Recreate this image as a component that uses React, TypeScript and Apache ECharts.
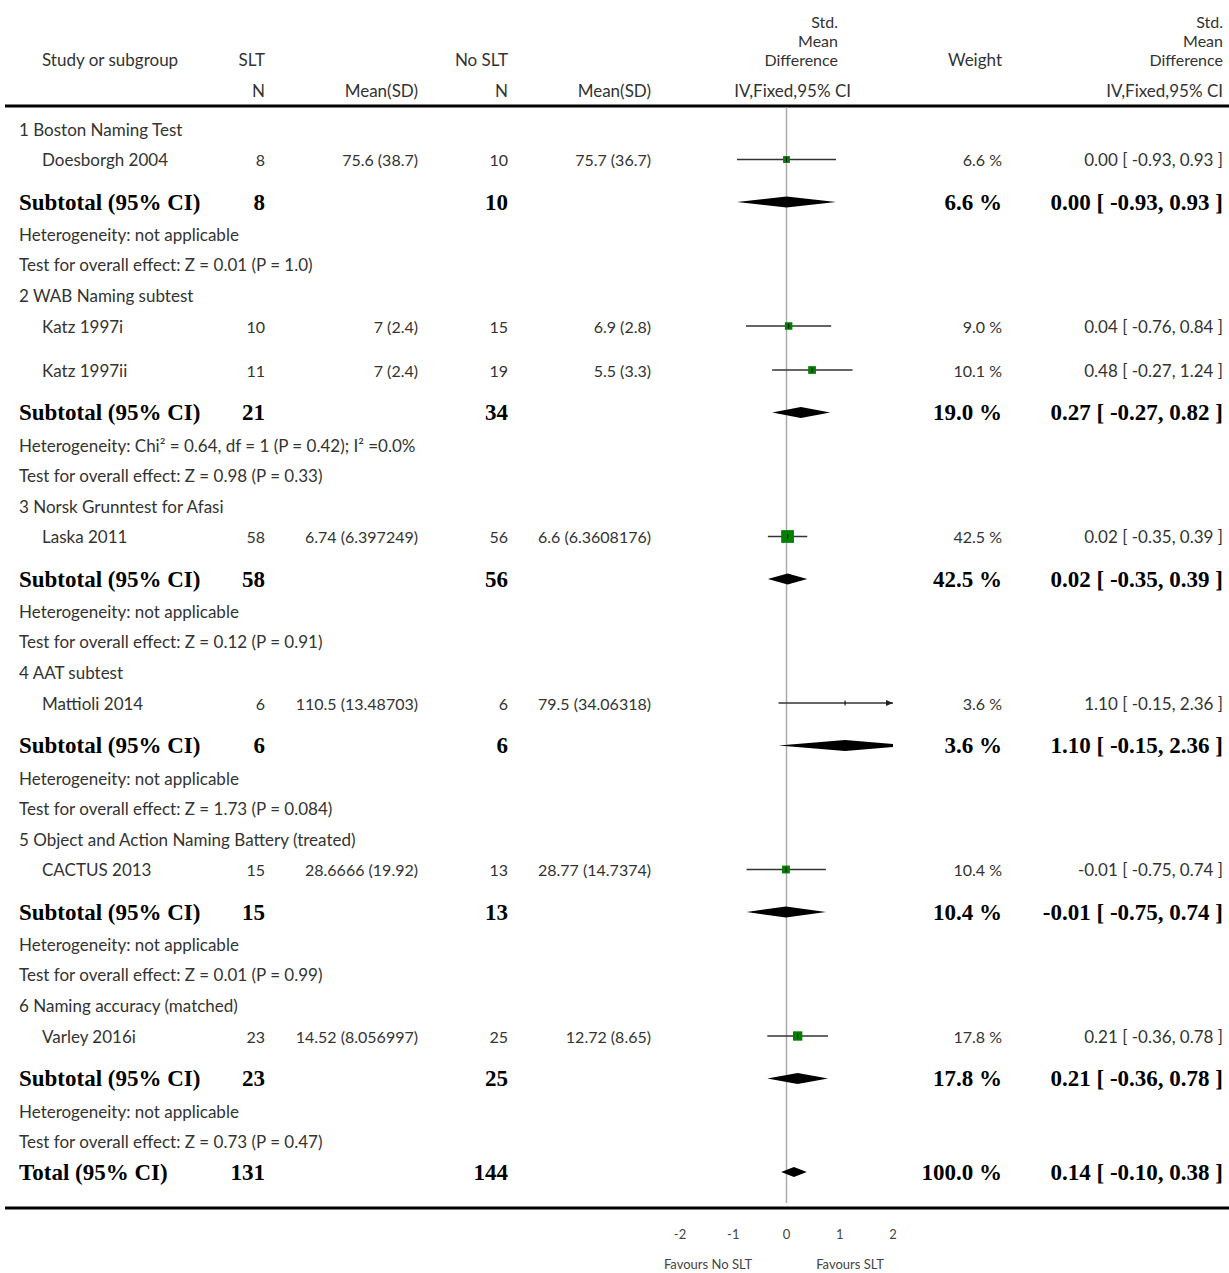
import React, { useEffect, useRef } from "react";
import * as echarts from "echarts";

// ---------- data ----------
const subgroupNames = [
  "1 Boston Naming Test",
  "2 WAB Naming subtest",
  "3 Norsk Grunntest for Afasi",
  "4 AAT subtest",
  "5 Object and Action Naming Battery (treated)",
  "6 Naming accuracy (matched)",
];
const studyNames = ["Doesborgh 2004", "Katz 1997i", "Katz 1997ii", "Laska 2011", "Mattioli 2014", "CACTUS 2013", "Varley 2016i"];
const studyGroup = [0, 1, 1, 2, 3, 4, 5];
const sltN = [8, 10, 11, 58, 6, 15, 23];
const sltMeanSD = ["75.6 (38.7)", "7 (2.4)", "7 (2.4)", "6.74 (6.397249)", "110.5 (13.48703)", "28.6666 (19.92)", "14.52 (8.056997)"];
const noN = [10, 15, 19, 56, 6, 13, 25];
const noMeanSD = ["75.7 (36.7)", "6.9 (2.8)", "5.5 (3.3)", "6.6 (6.3608176)", "79.5 (34.06318)", "28.77 (14.7374)", "12.72 (8.65)"];
const studySMD = [0.0, 0.04, 0.48, 0.02, 1.1, -0.01, 0.21];
const studyLo = [-0.93, -0.76, -0.27, -0.35, -0.15, -0.75, -0.36];
const studyHi = [0.93, 0.84, 1.24, 0.39, 2.36, 0.74, 0.78];
const studyWeight = [6.6, 9.0, 10.1, 42.5, 3.6, 10.4, 17.8];

const subSltN = [8, 21, 58, 6, 15, 23];
const subNoN = [10, 34, 56, 6, 13, 25];
const subSMD = [0.0, 0.27, 0.02, 1.1, -0.01, 0.21];
const subLo = [-0.93, -0.27, -0.35, -0.15, -0.75, -0.36];
const subHi = [0.93, 0.82, 0.39, 2.36, 0.74, 0.78];
const subWeight = [6.6, 19.0, 42.5, 3.6, 10.4, 17.8];
const heterogeneity = [
  "Heterogeneity: not applicable",
  "Heterogeneity: Chi² = 0.64, df = 1 (P = 0.42); I² =0.0%",
  "Heterogeneity: not applicable",
  "Heterogeneity: not applicable",
  "Heterogeneity: not applicable",
  "Heterogeneity: not applicable",
];
const overallEffect = [
  "Test for overall effect: Z = 0.01 (P = 1.0)",
  "Test for overall effect: Z = 0.98 (P = 0.33)",
  "Test for overall effect: Z = 0.12 (P = 0.91)",
  "Test for overall effect: Z = 1.73 (P = 0.084)",
  "Test for overall effect: Z = 0.01 (P = 0.99)",
  "Test for overall effect: Z = 0.73 (P = 0.47)",
];
const totalSltN = 131;
const totalNoN = 144;
const totalSMD = 0.14;
const totalLo = -0.1;
const totalHi = 0.38;
const totalWeight = 100.0;

const axisMin = -2;
const axisMax = 2;
const axisInterval = 1;
const favoursLeft = "Favours No SLT";
const favoursRight = "Favours SLT";

// ---------- layout ----------
const W = 1229;
const H = 1273;
const PLOT_LEFT = 680;
const PLOT_RIGHT = 893;
const AXIS_Y = 1208;
const TOP_RULE_Y = 106;

const REG = "Lato, 'Open Sans', 'DejaVu Sans', sans-serif";
const SERIF = "'Liberation Serif', 'Times New Roman', serif";
const LABEL_SIZE = 17;
const HEAD_STACK_SIZE = 16;
const NUM_SIZE = 16;
const CI_SIZE = 17;
const BOLD_SIZE = 23;
const TEXT_COLOR = "#333";

const COL = {
  group: 19,
  study: 42,
  sltN: 265,
  sltMean: 418,
  noN: 508,
  noMean: 651,
  plotHead: 838,
  plotHead2: 851,
  weight: 1002,
  ci: 1223,
};

type Row = { kind: string; idx: number; y: number };

function layoutRows(): Row[] {
  const rows: Row[] = [];
  let y = 129;
  subgroupNames.forEach((_, g) => {
    rows.push({ kind: "header", idx: g, y });
    y += 30.5;
    const members = studyNames.map((_, i) => i).filter((i) => studyGroup[i] === g);
    members.forEach((i, k) => {
      rows.push({ kind: "study", idx: i, y });
      y += k < members.length - 1 ? 44 : 42.5;
    });
    rows.push({ kind: "subtotal", idx: g, y });
    y += 32.5;
    rows.push({ kind: "het", idx: g, y });
    y += 30.3;
    rows.push({ kind: "test", idx: g, y });
    y += 30.7;
  });
  rows.push({ kind: "total", idx: 0, y });
  return rows;
}

const fmt = (v: number) => v.toFixed(2);
const ciText = (e: number, l: number, h: number) => `${fmt(e)} [ ${fmt(l)}, ${fmt(h)} ]`;
const wText = (w: number) => `${w.toFixed(1)} %`;

function text(t: string, x: number, y: number, align: string, bold = false, size?: number, color?: string) {
  const fs = size || (bold ? BOLD_SIZE : LABEL_SIZE);
  return {
    type: "text",
    x,
    y,
    silent: true,
    style: {
      text: t,
      fill: color || (bold ? "#000" : TEXT_COLOR),
      fontFamily: bold ? SERIF : REG,
      fontWeight: bold ? "bold" : "normal",
      fontSize: fs,
      lineHeight: Math.round(fs * 1.05),
      textAlign: align,
      textVerticalAlign: "middle",
      align,
      verticalAlign: "middle",
    },
  };
}

function buildOption() {
  const rows = layoutRows();
  const g: any[] = [];

  // header
  const hy1 = 21, hy2 = 40, hy3 = 59, hy4 = 90;
  g.push(text("Study or subgroup", COL.study, hy3, "left"));
  g.push(text("SLT", COL.sltN, hy3, "right"));
  g.push(text("No SLT", COL.noN, hy3, "right"));
  g.push(text("N", COL.sltN, hy4, "right"));
  g.push(text("Mean(SD)", COL.sltMean, hy4, "right"));
  g.push(text("N", COL.noN, hy4, "right"));
  g.push(text("Mean(SD)", COL.noMean, hy4, "right"));
  g.push(text("Std.", COL.plotHead, hy1, "right", false, HEAD_STACK_SIZE));
  g.push(text("Mean", COL.plotHead, hy2, "right", false, HEAD_STACK_SIZE));
  g.push(text("Difference", COL.plotHead, hy3, "right", false, HEAD_STACK_SIZE));
  g.push(text("IV,Fixed,95% CI", COL.plotHead2, hy4, "right"));
  g.push(text("Weight", COL.weight, hy3, "right"));
  g.push(text("Std.", COL.ci, hy1, "right", false, HEAD_STACK_SIZE));
  g.push(text("Mean", COL.ci, hy2, "right", false, HEAD_STACK_SIZE));
  g.push(text("Difference", COL.ci, hy3, "right", false, HEAD_STACK_SIZE));
  g.push(text("IV,Fixed,95% CI", COL.ci, hy4, "right"));

  // rules
  g.push({ type: "line", silent: true, shape: { x1: 5, y1: TOP_RULE_Y, x2: W, y2: TOP_RULE_Y }, style: { stroke: "#000", lineWidth: 3 } });
  g.push({ type: "line", silent: true, shape: { x1: 5, y1: AXIS_Y, x2: W, y2: AXIS_Y }, style: { stroke: "#000", lineWidth: 3 } });

  rows.forEach((r) => {
    const i = r.idx;
    if (r.kind === "header") g.push(text(subgroupNames[i], COL.group, r.y, "left"));
    else if (r.kind === "study") {
      g.push(text(studyNames[i], COL.study, r.y, "left"));
      g.push(text(String(sltN[i]), COL.sltN, r.y, "right", false, NUM_SIZE));
      g.push(text(sltMeanSD[i], COL.sltMean, r.y, "right", false, NUM_SIZE));
      g.push(text(String(noN[i]), COL.noN, r.y, "right", false, NUM_SIZE));
      g.push(text(noMeanSD[i], COL.noMean, r.y, "right", false, NUM_SIZE));
      g.push(text(wText(studyWeight[i]), COL.weight, r.y, "right", false, NUM_SIZE));
      g.push(text(ciText(studySMD[i], studyLo[i], studyHi[i]), COL.ci, r.y, "right", false, CI_SIZE));
    } else if (r.kind === "subtotal") {
      g.push(text("Subtotal (95% CI)", COL.group, r.y, "left", true));
      g.push(text(String(subSltN[i]), COL.sltN, r.y, "right", true));
      g.push(text(String(subNoN[i]), COL.noN, r.y, "right", true));
      g.push(text(wText(subWeight[i]), COL.weight, r.y, "right", true));
      g.push(text(ciText(subSMD[i], subLo[i], subHi[i]), COL.ci, r.y, "right", true));
    } else if (r.kind === "het") g.push(text(heterogeneity[i], COL.group, r.y, "left"));
    else if (r.kind === "test") g.push(text(overallEffect[i], COL.group, r.y, "left"));
    else if (r.kind === "total") {
      g.push(text("Total (95% CI)", COL.group, r.y, "left", true));
      g.push(text(String(totalSltN), COL.sltN, r.y, "right", true));
      g.push(text(String(totalNoN), COL.noN, r.y, "right", true));
      g.push(text(wText(totalWeight), COL.weight, r.y, "right", true));
      g.push(text(ciText(totalSMD, totalLo, totalHi), COL.ci, r.y, "right", true));
    }
  });

  // favours labels
  g.push(text(favoursLeft, 708, 1264, "center", false, 13, "#444"));
  g.push(text(favoursRight, 850, 1264, "center", false, 13, "#444"));

  const studyData = rows
    .filter((r) => r.kind === "study")
    .map((r) => [studySMD[r.idx], studyLo[r.idx], studyHi[r.idx], r.y, studyWeight[r.idx]]);
  const diamondData = rows
    .filter((r) => r.kind === "subtotal" || r.kind === "total")
    .map((r) =>
      r.kind === "total"
        ? [totalSMD, totalLo, totalHi, r.y, 5]
        : [subSMD[r.idx], subLo[r.idx], subHi[r.idx], r.y, 5.5]
    );
  const firstY = TOP_RULE_Y + 1;
  const lastY = AXIS_Y - 5;

  return {
    animation: false,
    backgroundColor: "#fff",
    grid: { left: PLOT_LEFT, right: W - PLOT_RIGHT, top: 0, bottom: H - AXIS_Y, containLabel: false },
    xAxis: {
      type: "value",
      min: axisMin,
      max: axisMax,
      interval: axisInterval,
      position: "bottom",
      axisLine: { show: false },
      axisTick: { show: true, inside: true, length: 5, lineStyle: { color: "#000", width: 3 } },
      axisLabel: { margin: 19, fontSize: 13, color: "#444", fontFamily: REG },
      splitLine: { show: false },
    },
    yAxis: { type: "value", min: 0, max: AXIS_Y, inverse: true, show: false },
    graphic: { elements: g },
    series: [
      {
        type: "custom",
        z: 1,
        silent: true,
        data: [[0, firstY, lastY]],
        renderItem: (params: any, api: any) => {
          const a = api.coord([api.value(0), api.value(1)]);
          const b = api.coord([api.value(0), api.value(2)]);
          return {
            type: "line",
            shape: { x1: a[0], y1: a[1], x2: b[0], y2: b[1] },
            style: { stroke: "#aaa", lineWidth: 1.5 },
          };
        },
      },
      {
        type: "custom",
        z: 3,
        silent: true,
        data: studyData,
        renderItem: (params: any, api: any) => {
          const est = api.value(0), lo = api.value(1), hi = api.value(2), y = api.value(3), w = api.value(4);
          const cl = Math.max(lo, axisMin), ch = Math.min(hi, axisMax);
          const pL = api.coord([cl, y]);
          const pH = api.coord([ch, y]);
          const pE = api.coord([est, y]);
          const children: any[] = [
            { type: "line", shape: { x1: pL[0], y1: pL[1], x2: pH[0], y2: pH[1] }, style: { stroke: "#333", lineWidth: 1.3 } },
          ];
          if (hi > axisMax)
            children.push({ type: "polygon", shape: { points: [[pH[0], pH[1]], [pH[0] - 7, pH[1] - 3], [pH[0] - 7, pH[1] + 3]] }, style: { fill: "#222" } });
          if (lo < axisMin)
            children.push({ type: "polygon", shape: { points: [[pL[0], pL[1]], [pL[0] + 7, pL[1] - 3], [pL[0] + 7, pL[1] + 3]] }, style: { fill: "#222" } });
          if (hi <= axisMax && lo >= axisMin) {
            const s = 3 + 1.5 * Math.sqrt(w);
            children.push({ type: "rect", shape: { x: pE[0] - s / 2, y: pE[1] - s / 2, width: s, height: s }, style: { fill: "#008000" } });
          }
          children.push({ type: "line", shape: { x1: pE[0], y1: pE[1] - 2.5, x2: pE[0], y2: pE[1] + 2.5 }, style: { stroke: "#000", lineWidth: 1 } });
          return { type: "group", children };
        },
      },
      {
        type: "custom",
        z: 3,
        silent: true,
        clip: true,
        data: diamondData,
        renderItem: (params: any, api: any) => {
          const est = api.value(0), lo = api.value(1), hi = api.value(2), y = api.value(3), hh = api.value(4);
          const pL = api.coord([lo, y]);
          const pH = api.coord([hi, y]);
          const pE = api.coord([est, y]);
          return {
            type: "polygon",
            shape: { points: [[pL[0], pL[1]], [pE[0], pE[1] - hh], [pH[0], pH[1]], [pE[0], pE[1] + hh]] },
            style: { fill: "#000" },
          };
        },
      },
    ],
  };
}

export default function App() {
  const ref = useRef<HTMLDivElement>(null);
  useEffect(() => {
    if (!ref.current) return;
    const chart = echarts.init(ref.current, null, { renderer: "svg" });
    chart.setOption(buildOption() as any);
    return () => chart.dispose();
  }, []);
  return <div ref={ref} style={{ position: "absolute", left: 0, top: 0, width: W, height: H, background: "#fff" }} />;
}
